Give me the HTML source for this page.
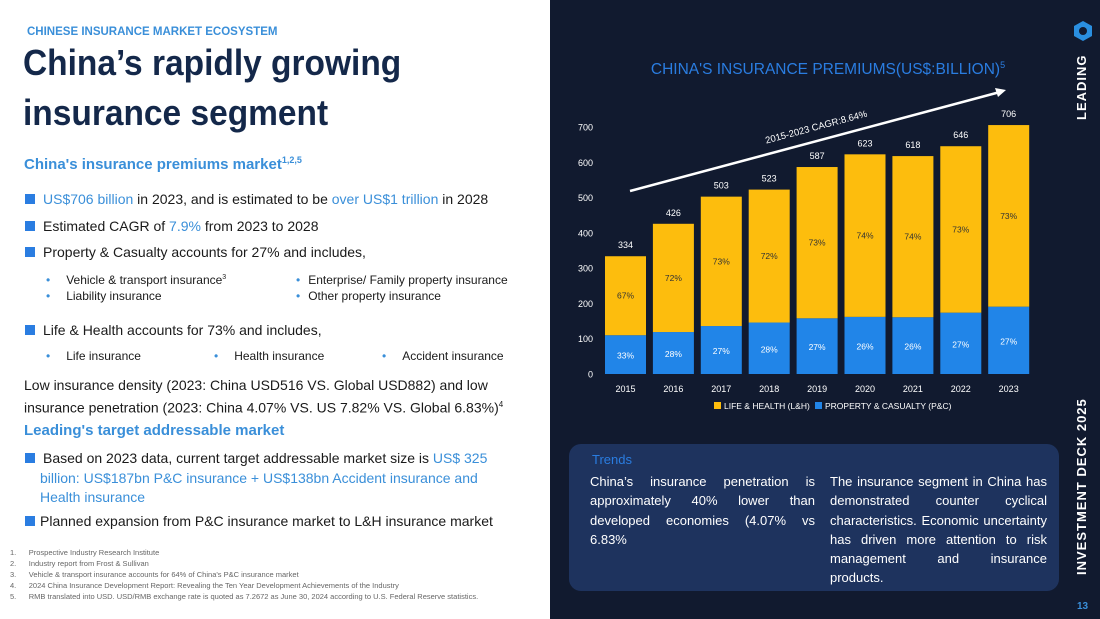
<!DOCTYPE html>
<html><head><meta charset="utf-8">
<style>
*{margin:0;padding:0;box-sizing:border-box}
body{width:1100px;height:619px;overflow:hidden;background:#fff;font-family:"Liberation Sans",sans-serif;position:relative}
.a{position:absolute;white-space:nowrap}
.blue{color:#3a8fd9}
.sq{display:inline-block;width:10px;height:10px;background:#2a7de1;margin-right:8px;vertical-align:0px}
.b{font-size:14px;color:#1a1a1a}
.s{font-size:12px;color:#1a1a1a}
.dot{color:#3a8fd9;margin-right:16px}
.fn{font-size:7.5px;color:#666}
</style></head><body>
<div>
<div class="a" style="left:27px;top:26px;font-size:11.5px;font-weight:bold;color:#3a8fd9">CHINESE INSURANCE MARKET ECOSYSTEM</div>
<div class="a" style="left:23px;top:38px;font-size:36px;font-weight:bold;color:#14284a;line-height:50px;transform:scaleX(0.93);transform-origin:left">China’s rapidly growing<br>insurance segment</div>
<div class="a blue" style="left:24px;top:155px;font-size:15px;font-weight:bold">China's insurance premiums market<sup style="font-size:9px">1,2,5</sup></div>
<div class="a b" style="left:25px;top:191px"><span class="sq"></span><span class="blue">US$706 billion</span> in 2023, and is estimated to be <span class="blue">over US$1 trillion</span> in 2028</div>
<div class="a b" style="left:25px;top:218px"><span class="sq"></span>Estimated CAGR of <span class="blue">7.9%</span> from 2023 to 2028</div>
<div class="a b" style="left:25px;top:244px"><span class="sq"></span>Property &amp; Casualty accounts for 27% and includes,</div>
<div class="a s" style="left:46px;top:273px"><span class="dot">•</span>Vehicle &amp; transport insurance<sup style="font-size:7px">3</sup></div>
<div class="a s" style="left:46px;top:289px"><span class="dot">•</span>Liability insurance</div>
<div class="a s" style="left:296px;top:273px"><span class="dot" style="margin-right:8px">•</span>Enterprise/ Family property insurance</div>
<div class="a s" style="left:296px;top:289px"><span class="dot" style="margin-right:8px">•</span>Other property insurance</div>
<div class="a b" style="left:25px;top:322px"><span class="sq"></span>Life &amp; Health accounts for 73% and includes,</div>
<div class="a s" style="left:46px;top:349px"><span class="dot">•</span>Life insurance</div>
<div class="a s" style="left:214px;top:349px"><span class="dot">•</span>Health insurance</div>
<div class="a s" style="left:382px;top:349px"><span class="dot">•</span>Accident insurance</div>
<div class="a b" style="left:24px;top:375px;line-height:20px">Low insurance density (2023: China USD516 VS. Global USD882) and low<br>insurance penetration (2023: China 4.07% VS. US 7.82% VS. Global 6.83%)<sup style="font-size:8px">4</sup></div>
<div class="a blue" style="left:24px;top:422px;font-size:15px;font-weight:bold">Leading's target addressable market</div>
<div class="a b" style="left:25px;top:449px;line-height:19.5px"><span class="sq"></span>Based on 2023 data, current target addressable market size is <span class="blue">US$ 325</span><br><span class="blue" style="padding-left:15px">billion: US$187bn P&amp;C insurance + US$138bn Accident insurance and</span><br><span class="blue" style="padding-left:15px">Health insurance</span></div>
<div class="a b" style="left:25px;top:513px"><span class="sq" style="margin-right:5px"></span>Planned expansion from P&amp;C insurance market to L&amp;H insurance market</div>
<div class="a fn" style="left:10px;top:547px;line-height:11px">1.&nbsp;&nbsp;&nbsp;&nbsp;&nbsp;&nbsp;Prospective Industry Research Institute<br>2.&nbsp;&nbsp;&nbsp;&nbsp;&nbsp;&nbsp;Industry report from Frost &amp; Sullivan<br>3.&nbsp;&nbsp;&nbsp;&nbsp;&nbsp;&nbsp;Vehicle &amp; transport insurance accounts for 64% of China's P&amp;C insurance market<br>4.&nbsp;&nbsp;&nbsp;&nbsp;&nbsp;&nbsp;2024 China Insurance Development Report: Revealing the Ten Year Development Achievements of the Industry<br>5.&nbsp;&nbsp;&nbsp;&nbsp;&nbsp;&nbsp;RMB translated into USD. USD/RMB exchange rate is quoted as 7.2672 as June 30, 2024 according to U.S. Federal Reserve statistics.</div>
</div>

<div style="position:absolute;left:550px;top:0;width:550px;height:619px;background:#111a2f"></div>
<svg class="a" style="left:1073px;top:20px" width="20" height="22" viewBox="0 0 20 22"><polygon points="10,1 19,6 19,16 10,21 1,16 1,6" fill="#2a8fe0"/><circle cx="10" cy="11" r="4" fill="#111a2f"/></svg>
<div class="a" style="left:1074px;top:120px;transform:rotate(-90deg);transform-origin:left top;font-size:13px;font-weight:bold;color:#fff;letter-spacing:1px">LEADING</div>
<div class="a" style="left:1074px;top:575px;transform:rotate(-90deg);transform-origin:left top;font-size:13px;font-weight:bold;color:#fff;letter-spacing:1px">INVESTMENT DECK 2025</div>
<div class="a" style="left:1077px;top:601px;font-size:10px;font-weight:bold;color:#3a8fd9">13</div>

<svg id="chart" class="a" style="left:0;top:0" width="1100" height="440"></svg>

<div class="a" style="left:569px;top:444px;width:490px;height:147px;background:#1e335e;border-radius:12px"></div>
<div class="a" style="left:592px;top:452px;font-size:13px;color:#2a7de1">Trends</div>
<div class="a" style="left:590px;top:472px;width:225px;white-space:normal;text-align:justify;font-size:13px;line-height:19.3px;color:#fff">China’s insurance penetration is approximately 40% lower than developed economies (4.07% vs 6.83%</div>
<div class="a" style="left:830px;top:472px;width:217px;white-space:normal;text-align:justify;font-size:13px;line-height:19.3px;color:#fff">The insurance segment in China has demonstrated counter cyclical characteristics. Economic uncertainty has driven more attention to risk management and insurance products.</div>

<script>
const years=["2015","2016","2017","2018","2019","2020","2021","2022","2023"];
const totals=[334,426,503,523,587,623,618,646,706];
const pcValues=[110,119,136,146,158,162,161,174,191];
const lhPct=["67%","72%","73%","72%","73%","74%","74%","73%","73%"];
const pcPct=["33%","28%","27%","28%","27%","26%","26%","27%","27%"];
const yTicks=[0,100,200,300,400,500,600,700];
const svg=document.getElementById('chart');
const NS="http://www.w3.org/2000/svg";
const y=v=>374-v*0.3526;
const xc=i=>625.5+i*47.9;
const bw=41;
function mk(tag,attrs,txt){const e=document.createElementNS(NS,tag);for(const k in attrs)e.setAttribute(k,attrs[k]);if(txt!==undefined)e.textContent=txt;svg.appendChild(e);return e;}
let t=mk('text',{x:828,y:74,'text-anchor':'middle','font-size':15.5,fill:'#2a7de1','font-family':'Liberation Sans'},"CHINA'S INSURANCE PREMIUMS(US$:BILLION)");


const sup=document.createElementNS(NS,'tspan');sup.setAttribute('font-size',9);sup.setAttribute('dy',-6);sup.textContent='5';t.appendChild(sup);
yTicks.forEach(v=>{const e=mk('text',{x:593,y:y(v)+3.5,'text-anchor':'end','font-size':9,fill:'#fff','font-family':'Liberation Sans'},v);

});
years.forEach((yr,i)=>{
 const x0=xc(i)-bw/2;
 let r=mk('rect',{x:x0,y:y(pcValues[i]),width:bw,height:y(0)-y(pcValues[i]),fill:'#2185e8'});
 
 
 r=mk('rect',{x:x0,y:y(totals[i]),width:bw,height:y(pcValues[i])-y(totals[i]),fill:'#fdbd0d'});
 
 
 let e=mk('text',{x:xc(i),y:y(totals[i])-8,'text-anchor':'middle','font-size':9,fill:'#fff','font-family':'Liberation Sans'},totals[i]);
 
 
 e=mk('text',{x:xc(i),y:(y(totals[i])+y(pcValues[i]))/2+3,'text-anchor':'middle','font-size':8.5,fill:'#333','font-family':'Liberation Sans'},lhPct[i]);
 
 
 e=mk('text',{x:xc(i),y:(y(0)+y(pcValues[i]))/2+4,'text-anchor':'middle','font-size':8.5,fill:'#fff','font-family':'Liberation Sans'},pcPct[i]);
 
 
 e=mk('text',{x:xc(i),y:392,'text-anchor':'middle','font-size':9,fill:'#fff','font-family':'Liberation Sans'},yr);
 
 
});
let l=mk('line',{x1:630,y1:191,x2:1000,y2:92,stroke:'#fff','stroke-width':2.5});


l=mk('polygon',{points:'1006,90 995,88 998,97',fill:'#fff'});


l=mk('text',{x:0,y:0,transform:'translate(817,130) rotate(-15)','text-anchor':'middle','font-size':9.5,fill:'#fff','font-family':'Liberation Sans'},'2015-2023 CAGR:8.64%');


l=mk('rect',{x:714,y:402,width:7,height:7,fill:'#fdbd0d'});


l=mk('text',{x:724,y:409,'font-size':8.5,fill:'#fff','font-family':'Liberation Sans'},'LIFE & HEALTH (L&H)');


l=mk('rect',{x:815,y:402,width:7,height:7,fill:'#2185e8'});


l=mk('text',{x:825,y:409,'font-size':8.5,fill:'#fff','font-family':'Liberation Sans'},'PROPERTY & CASUALTY (P&C)');


</script>
</body></html>
